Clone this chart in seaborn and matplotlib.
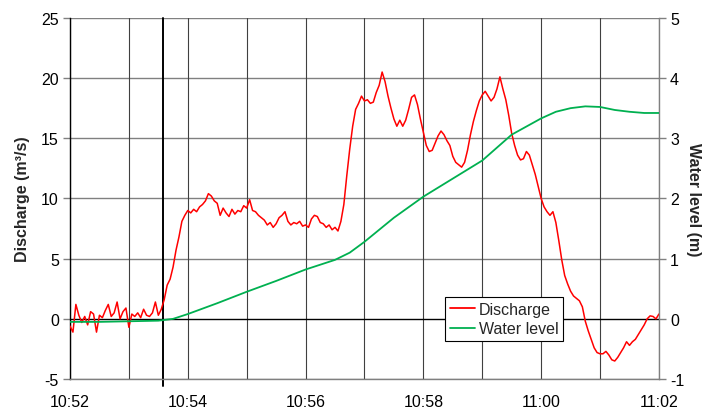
import numpy as np
import pandas as pd
import seaborn as sns
import matplotlib
matplotlib.use("Agg")
import matplotlib.pyplot as plt
from matplotlib.lines import Line2D

# ---- data ----
# minutes since 10:52, discharge sampled every 0.05 min
discharge = [
    -0.6, -1.1, 1.2, 0.3, -0.3, 0.2, -0.5, 0.6, 0.4, -1.1,
    0.3, 0.1, 0.7, 1.2, 0.2, 0.5, 1.4, 0.0, 0.6, 0.9,
    -0.7, 0.4, 0.2, 0.5, 0.1, 0.8, 0.3, 0.2, 0.5, 1.4,
    0.3, 0.8, 1.6, 2.8, 3.3, 4.3, 5.7, 6.8, 8.1, 8.6,
    9.0, 8.8, 9.1, 8.9, 9.3, 9.5, 9.8, 10.4, 10.2, 9.8,
    9.6, 8.6, 9.2, 8.8, 8.5, 9.1, 8.7, 9.0, 8.9, 9.4,
    9.2, 9.9, 9.0, 8.9, 8.6, 8.4, 8.2, 7.8, 8.0, 7.6,
    7.9, 8.4, 8.6, 8.9, 8.1, 7.8, 8.0, 7.9, 8.1, 7.7,
    7.8, 7.6, 8.3, 8.6, 8.5, 8.0, 7.9, 7.6, 7.8, 7.4,
    7.6, 7.3, 8.1, 9.5, 11.9, 14.1, 16.0, 17.4, 17.9, 18.5,
    18.1, 18.2, 17.9, 18.0, 18.8, 19.4, 20.5, 19.7, 18.5, 17.5,
    16.6, 16.0, 16.5, 16.0, 16.5, 17.4, 18.4, 18.6, 17.8, 16.6,
    15.5, 14.4, 13.9, 14.0, 14.6, 15.2, 15.6, 15.3, 14.8, 14.4,
    13.5, 13.0, 12.8, 12.6, 13.0, 14.0, 15.3, 16.4, 17.3, 18.1,
    18.6, 18.9, 18.5, 18.1, 18.4, 19.1, 20.1, 19.1, 18.2, 16.9,
    15.4, 14.4, 13.6, 13.2, 13.3, 13.9, 13.6, 12.8, 12.0, 11.0,
    10.0, 9.3, 8.9, 8.6, 8.9, 8.0, 6.5, 4.9, 3.6, 2.9,
    2.3, 1.9, 1.7, 1.5, 1.0, -0.2, -1.0, -1.7, -2.4, -2.8,
    -2.9, -2.9, -2.7, -3.0, -3.4, -3.5, -3.2, -2.8, -2.4, -1.9,
    -2.2, -1.9, -1.7, -1.3, -0.9, -0.5, 0.0, 0.25, 0.2, 0.0,
    0.4,
]
discharge_minutes = [round(0.05 * i, 2) for i in range(len(discharge))]

level_minutes = [0.0, 0.5, 1.0, 1.5, 1.75, 2.0, 2.5, 3.0, 3.5, 4.0, 4.5, 4.75,
                 5.0, 5.5, 6.0, 6.5, 7.0, 7.5, 8.0, 8.25, 8.5, 8.75, 9.0,
                 9.25, 9.5, 9.75, 10.0]
water_level = [-0.05, -0.05, -0.04, -0.03, 0.0, 0.08, 0.26, 0.45, 0.63, 0.82,
               0.98, 1.10, 1.28, 1.68, 2.03, 2.33, 2.63, 3.06, 3.33, 3.44,
               3.50, 3.53, 3.52, 3.47, 3.44, 3.42, 3.42]

tick_minutes = [0, 2, 4, 6, 8, 10]
tick_labels = ["10:52", "10:54", "10:56", "10:58", "11:00", "11:02"]
event_minute = 1.58

dfq = pd.DataFrame({"t": discharge_minutes, "q": discharge})
dfw = pd.DataFrame({"t": level_minutes, "w": water_level})

# ---- style ----
sns.set_theme(style="white")
plt.rcParams["font.family"] = ["Liberation Sans", "DejaVu Sans"]
plt.rcParams["axes.unicode_minus"] = False

fig = plt.figure(figsize=(7.07, 4.10), dpi=100)
ax = fig.add_axes([0.099, 0.073, 0.833, 0.881])

red = "#ff0000"
green = "#00b050"
fs = 11.5

# grid
for v in np.arange(-5, 26, 5):
    if v == 0:
        continue
    ax.axhline(v, color="#808080", lw=1.0, zorder=0)
for m in range(0, 11):
    ax.axvline(m, color="#404040", lw=0.8, zorder=0)
ax.axhline(0, color="black", lw=1.0, zorder=1)
ax.axvline(event_minute, ymin=-0.02, ymax=1, color="black", lw=1.4,
           zorder=1, clip_on=False)

sns.lineplot(data=dfq, x="t", y="q", ax=ax, color=red, lw=1.1, zorder=3)
ax.set_xlim(0, 10)
ax.set_ylim(-5, 25)
ax.set_yticks(np.arange(-5, 26, 5))
ax.set_xticks(tick_minutes)
ax.set_xticklabels(tick_labels)
ax.set_xlabel("")
ax.set_ylabel("Discharge (m³/s)", fontsize=fs, fontweight="bold", labelpad=8)

ax2 = ax.twinx()
sns.lineplot(data=dfw, x="t", y="w", ax=ax2, color=green, lw=1.3, zorder=3)
ax2.set_ylim(-1, 5)
ax2.set_yticks(np.arange(-1, 6, 1))
ax2.set_xlim(0, 10)
ax2.set_ylabel("Water level (m)", fontsize=fs, fontweight="bold",
               rotation=270, labelpad=12)

for a in (ax, ax2):
    for s in a.spines.values():
        s.set_visible(False)
ax.spines["left"].set_visible(True)
ax.spines["left"].set_color("black")
ax.spines["left"].set_linewidth(1.0)
ax.spines["bottom"].set_visible(True)
ax.spines["bottom"].set_color("#808080")
ax.spines["bottom"].set_linewidth(1.0)
ax2.spines["right"].set_visible(True)
ax2.spines["right"].set_color("#808080")
ax2.spines["right"].set_linewidth(1.0)

ax.tick_params(axis="y", left=True, length=5, width=1, color="#808080",
               labelsize=fs, pad=3, labelcolor="black")
ax.tick_params(axis="x", bottom=False, labelsize=fs, pad=5, labelcolor="black")
ax2.tick_params(axis="y", right=True, length=5, width=1, color="#808080",
                labelsize=fs, pad=3, labelcolor="black")

handles = [Line2D([], [], color=red, lw=1.3), Line2D([], [], color=green, lw=1.3)]
leg = ax2.legend(handles, ["Discharge", "Water level"], loc="lower left",
                 bbox_to_anchor=(0.637, 0.105), fontsize=fs, frameon=True,
                 fancybox=False, edgecolor="black", framealpha=1,
                 handlelength=1.6, handletextpad=0.2, borderpad=0.3,
                 labelspacing=0.3, borderaxespad=0)
leg.get_frame().set_linewidth(0.8)

fig.savefig("out.png", dpi=100)
